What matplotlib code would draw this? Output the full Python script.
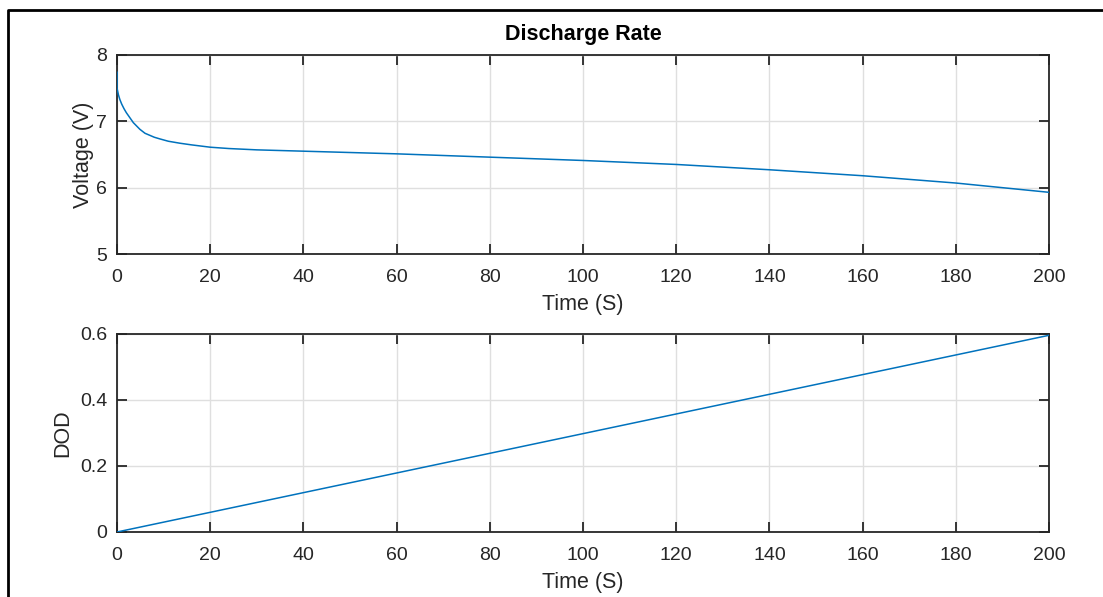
import numpy as np
import matplotlib.pyplot as plt
from matplotlib.lines import Line2D

# Voltage
time_v = [0, 0, 0.3, 0.6, 1, 1.5, 2, 2.8, 3.5, 4.9, 6, 7, 8, 9.2, 11, 13.5, 16, 20, 24, 30,
          40, 60, 80, 100, 120, 140, 160, 180, 200]
voltage = [7.74, 7.5, 7.40, 7.33, 7.26, 7.19, 7.13, 7.05, 6.98, 6.88, 6.82, 6.79, 6.76, 6.735, 6.70,
           6.67, 6.645, 6.61, 6.59, 6.57, 6.55, 6.51, 6.46, 6.41, 6.35, 6.27, 6.18, 6.07, 5.93]

# Depth of discharge, bottom panel
time_d = [0, 200]
dod = [0, 0.596]

xticks = [0, 20, 40, 60, 80, 100, 120, 140, 160, 180, 200]

plt.rcParams['font.family'] = ['Liberation Sans', 'DejaVu Sans']
blue = '#0072BD'
dark = '#262626'

fig = plt.figure(figsize=(11.03, 5.97), dpi=100)

def style(ax) :
	ax.set_xlim(0, 200)
	ax.set_xticks(xticks)
	ax.grid(True, color='#DFDFDF', linewidth=1)
	ax.set_axisbelow(True)
	ax.tick_params(direction='in', length=7, width=1.3, top=True, right=True,
		colors=dark, labelsize=14)
	ax.tick_params(axis='x', pad=10.5)
	ax.tick_params(axis='y', pad=7)
	for s in ax.spines.values() :
		s.set_color(dark)
		s.set_linewidth(1.3)
	ax.set_xlabel('Time (S)', fontsize=15.5, color=dark, labelpad=6)

ax1 = fig.add_axes([0.1061, 0.5745, 0.8450, 0.3334])
ax1.plot(time_v, voltage, color=blue, linewidth=1.1, zorder=3)
ax1.set_ylim(5, 8)
ax1.set_yticks([5, 6, 7, 8])
style(ax1)
ax1.set_ylabel('Voltage (V)', fontsize=15.5, color=dark, labelpad=2)
ax1.set_title('Discharge Rate', fontsize=15.5, fontweight='bold', pad=11)

ax2 = fig.add_axes([0.1061, 0.1089, 0.8450, 0.3317])
ax2.plot(time_d, dod, color=blue, linewidth=1.1, zorder=3)
ax2.set_ylim(0, 0.6)
ax2.set_yticks([0, 0.2, 0.4, 0.6])
ax2.set_yticklabels(['0', '0.2', '0.4', '0.6'])
style(ax2)
ax2.set_ylabel('DOD', fontsize=15.5, color=dark, labelpad=5)

# frame around the figure (left and top visible)
W, H = 1103.0, 597.0
fig.add_artist(Line2D([8 / W, 8 / W, 1.0], [0.0, 1 - 10 / H, 1 - 10 / H],
	transform=fig.transFigure, color='black', linewidth=2))

fig.savefig('out.png', dpi=100)
